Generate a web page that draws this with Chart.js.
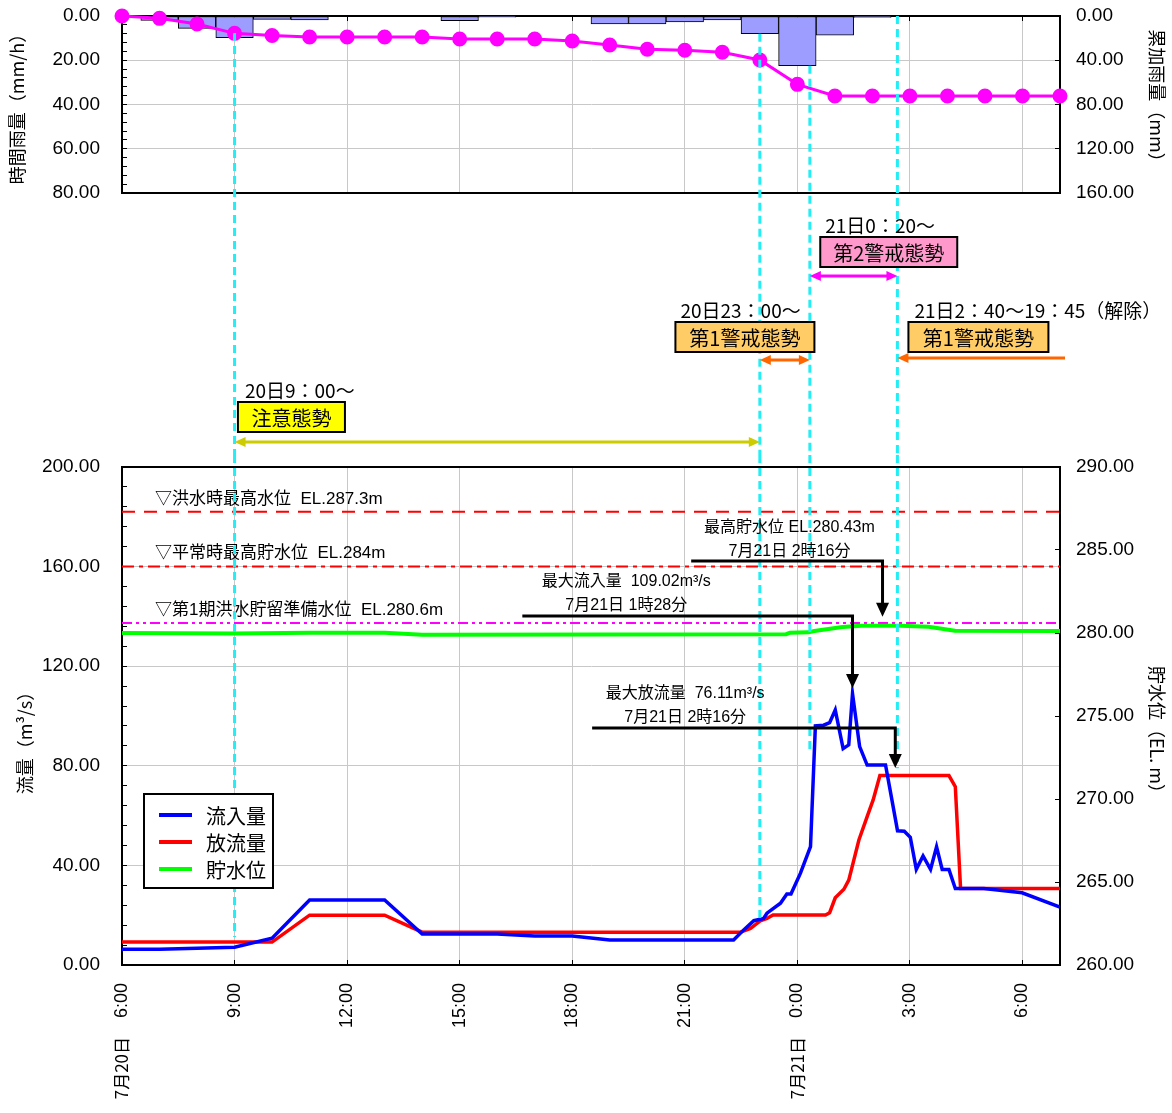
<!DOCTYPE html>
<html lang="ja">
<head>
<meta charset="utf-8">
<title>降雨・流量・貯水位</title>
<script src="https://cdn.jsdelivr.net/npm/chart.js@4/dist/chart.umd.min.js"></script>
<style>
  html, body { margin: 0; padding: 0; background: #fff; }
  #wrap { position: relative; width: 1172px; height: 1113px; }
  #rainChart { position: absolute; left: 0; top: 0; }
  #flowChart { position: absolute; left: 0; top: 455px; }
</style>
</head>
<body>
<div id="wrap">
  <canvas id="rainChart" width="1172" height="455"></canvas>
  <canvas id="flowChart" width="1172" height="658"></canvas>
</div>
<script>
// time = hours from 7/20 0:00 (24 and above = 7/21)
const rainHours = [6, 7, 8, 9, 10, 11, 12, 13, 14, 15, 16, 17, 18, 19, 20, 21, 22, 23, 24, 25, 26, 27, 28, 29, 30, 31];
const hourlyRain = [0, 2.0, 5.6, 9.8, 1.5, 1.8, 0, 0, 0, 2.1, 0.5, 0, 0, 3.6, 3.6, 2.7, 1.8, 8.0, 22.5, 8.7, 0.6, 0, 0, 0, 0, 0];
const cumulativeRain = [0, 2.1, 7.2, 15.7, 17.6, 19.0, 19.0, 19.0, 19.0, 20.8, 20.8, 20.8, 22.6, 26.2, 30.1, 31.0, 32.8, 39.8, 61.8, 72.3, 72.3, 72.3, 72.3, 72.3, 72.3, 72.3];

const inflowHours = [6, 7, 9, 10, 11, 13, 14, 16, 17, 18, 19, 22.3, 22.57, 22.84, 23.1, 23.19, 23.55, 23.72, 23.83, 24.08, 24.35, 24.48, 24.7, 24.86, 25.01, 25.22, 25.37, 25.47, 25.66, 25.86, 26.35, 26.52, 26.67, 26.85, 27.01, 27.17, 27.35, 27.55, 27.71, 27.86, 28.04, 28.21, 28.97, 29.99, 31];
const inflowValues = [6.3, 6.3, 7.1, 10.8, 26.1, 26.1, 12.4, 12.4, 11.6, 11.6, 10.0, 10.0, 14.1, 17.8, 18.7, 20.8, 24.8, 28.5, 28.5, 36.8, 47.5, 96.0, 96.3, 97.3, 102.4, 86.9, 88.4, 109.0, 87.7, 80.3, 80.3, 66.3, 53.9, 53.7, 51.3, 38.4, 43.8, 38.4, 47.5, 38.4, 38.4, 30.7, 30.7, 29.0, 23.2];

const outflowHours = [6, 10, 11, 13, 14, 22.48, 22.75, 23.01, 23.19, 23.35, 24.75, 24.86, 25.01, 25.24, 25.37, 25.64, 25.86, 26.02, 26.2, 28.04, 28.21, 28.35, 31];
const outflowValues = [9.2, 9.2, 20.0, 20.0, 13.2, 13.2, 14.7, 17.7, 18.7, 20.1, 20.1, 21.0, 27.0, 30.4, 34.1, 50.2, 59.6, 66.3, 76.1, 76.1, 71.6, 30.7, 30.7];

const levelHours = [6, 9, 11, 13, 14, 23.7, 23.8, 24.3, 24.45, 25.2, 25.7, 26.75, 27.5, 28.2, 31];
const levelValues = [280.0, 279.97, 280.02, 280.02, 279.9, 279.93, 280.02, 280.04, 280.12, 280.36, 280.43, 280.43, 280.38, 280.14, 280.12];

const xTickHours = [6, 9, 12, 15, 18, 21, 24, 27, 30];
const xTickLabels = ["6:00", "9:00", "12:00", "15:00", "18:00", "21:00", "0:00", "3:00", "6:00"];
const dateLabels = ["7月20日", "", "", "", "", "", "7月21日", "", ""];

const seriesNames = ["流入量", "放流量", "貯水位"];
const refLevels = [287.3, 284, 280.6];
const refLabels = ["▽洪水時最高水位  EL.287.3m", "▽平常時最高貯水位  EL.284m", "▽第1期洪水貯留準備水位  EL.280.6m"];

const TICK_FONT = '"Liberation Sans", "Noto Sans CJK JP", sans-serif';
const JP_FONT = '"Noto Sans CJK JP", "Liberation Sans", sans-serif';
const CYAN = '#22EEF5';
const GRID = '#C8C8C8';

// alert-stage marks (dashed cyan lines across both charts)
const alertLines = [
  { hour: 9, rainTop: 7.7, flowBottom: 11.2 },
  { hour: 23, rainTop: 8.0, flowBottom: 18.7 },
  { hour: 24 + 20 / 60, rainTop: 22.5, flowBottom: 86 },
  { hour: 26 + 40 / 60, rainTop: 0, flowBottom: 79 }
];

const stages = [
  { name: "注意態勢", since: "20日9：00～", fill: "#FFFF00", arrow: "#CCCC00", from: 9, to: 23, headEnd: true,
    boxHour: 9.09, boxW: 107, boxTop: 402, textShift: 7, arrowY: 442 },
  { name: "第1警戒態勢", since: "20日23：00～", fill: "#FFCC66", arrow: "#FF6600", from: 23, to: 24 + 20 / 60, headEnd: true,
    boxHour: 20.75, boxW: 139, boxTop: 322, textShift: 5, arrowY: 360 },
  { name: "第2警戒態勢", since: "21日0：20～", fill: "#FF99CC", arrow: "#FF00FF", from: 24 + 20 / 60, to: 26 + 40 / 60, headEnd: true,
    boxHour: 24.61, boxW: 137, boxTop: 237, textShift: 5, arrowY: 276 },
  { name: "第1警戒態勢", since: "21日2：40～19：45（解除）", fill: "#FFCC66", arrow: "#FF6600", from: 26 + 40 / 60, to: null, headEnd: false,
    boxHour: 26.96, boxW: 140, boxTop: 322, textShift: 6, arrowY: 358 }
];

const peakNotes = [
  { lines: ["最高貯水位 EL.280.43m", "7月21日 2時16分"], textHour: 23.79, fromHour: 21.17, toHour: 26.27, leader: 162.2, tip: 139.9 },
  { lines: ["最大流入量  109.02m³/s", "7月21日 1時28分"], textHour: 19.44, fromHour: 16.67, toHour: 25.47, leader: 140.2, tip: 111.2 },
  { lines: ["最大放流量  76.11m³/s", "7月21日 2時16分"], textHour: 21.01, fromHour: 18.53, toHour: 26.61, leader: 95.2, tip: 79.1 }
];

const pts = (xs, ys) => xs.map((x, i) => ({ x: x, y: ys[i] }));

function arrowHead(ctx, x, y, dx, dy, len, half) {
  ctx.beginPath();
  ctx.moveTo(x, y);
  ctx.lineTo(x - dx * len - dy * half, y - dy * len + dx * half);
  ctx.lineTo(x - dx * len + dy * half, y - dy * len - dx * half);
  ctx.closePath();
  ctx.fill();
}

const isMajor = (v, step) => Math.abs(Math.round(v) % step) === 0;

// fixed axis widths so both charts share the same x pixels
const fixWidth = w => s => { s.width = w; s.paddingTop = 0; s.paddingBottom = 0; };

// top chart: cyan lines and the alert-stage boxes in the gap
const rainOverlay = {
  id: 'rainOverlay',
  afterDatasetsDraw(chart) {
    const { ctx, chartArea: area, scales: { x, y } } = chart;
    ctx.save();
    ctx.strokeStyle = CYAN;
    ctx.lineWidth = 3;
    ctx.setLineDash([8, 5]);
    alertLines.forEach(l => {
      const px = x.getPixelForValue(l.hour);
      ctx.beginPath();
      ctx.moveTo(px, y.getPixelForValue(l.rainTop));
      ctx.lineTo(px, chart.height);
      ctx.stroke();
    });
    ctx.setLineDash([]);

    stages.forEach(s => {
      const bx = x.getPixelForValue(s.boxHour);
      ctx.fillStyle = '#000';
      ctx.font = '19px ' + JP_FONT;
      ctx.textAlign = 'left';
      ctx.textBaseline = 'middle';
      ctx.fillText(s.since, bx + s.textShift, s.boxTop - 11);

      ctx.fillStyle = s.fill;
      ctx.fillRect(bx, s.boxTop, s.boxW, 30);
      ctx.strokeStyle = '#000';
      ctx.lineWidth = 2;
      ctx.strokeRect(bx, s.boxTop, s.boxW, 30);
      ctx.fillStyle = '#000';
      ctx.font = '20px ' + JP_FONT;
      ctx.textAlign = 'center';
      ctx.fillText(s.name, bx + s.boxW / 2, s.boxTop + 16);

      const x1 = x.getPixelForValue(s.from);
      const x2 = s.to === null ? area.right + 5 : x.getPixelForValue(s.to);
      ctx.strokeStyle = s.arrow;
      ctx.fillStyle = s.arrow;
      ctx.lineWidth = 3;
      ctx.beginPath();
      ctx.moveTo(x1 + 6, s.arrowY);
      ctx.lineTo(s.headEnd ? x2 - 6 : x2, s.arrowY);
      ctx.stroke();
      arrowHead(ctx, x1, s.arrowY, -1, 0, 11, 5);
      if (s.headEnd) arrowHead(ctx, x2, s.arrowY, 1, 0, 11, 5);
    });
    ctx.restore();
  }
};

// bottom chart: level labels, cyan lines, peak notes, legend, dates
const flowOverlay = {
  id: 'flowOverlay',
  afterDatasetsDraw(chart) {
    const { ctx, chartArea: area, scales: { x, y, yR } } = chart;
    ctx.save();
    ctx.fillStyle = '#000';
    ctx.font = '17px ' + TICK_FONT;
    ctx.textAlign = 'left';
    ctx.textBaseline = 'middle';
    refLevels.forEach((lv, i) => {
      ctx.fillText(refLabels[i], area.left + 33, yR.getPixelForValue(lv) - 13);
    });

    ctx.strokeStyle = CYAN;
    ctx.lineWidth = 3;
    ctx.setLineDash([8, 5]);
    alertLines.forEach(l => {
      const px = x.getPixelForValue(l.hour);
      ctx.beginPath();
      ctx.moveTo(px, 0);
      ctx.lineTo(px, y.getPixelForValue(l.flowBottom));
      ctx.stroke();
    });
    ctx.setLineDash([]);

    peakNotes.forEach(n => {
      const tx = x.getPixelForValue(n.textHour);
      const ly = y.getPixelForValue(n.leader);
      ctx.fillStyle = '#000';
      ctx.font = '16px ' + TICK_FONT;
      ctx.textAlign = 'center';
      ctx.fillText(n.lines[0], tx, ly - 34);
      ctx.fillText(n.lines[1], tx, ly - 10);
      const x1 = x.getPixelForValue(n.fromHour);
      const x2 = x.getPixelForValue(n.toHour);
      const tip = y.getPixelForValue(n.tip);
      ctx.strokeStyle = '#000';
      ctx.lineWidth = 3;
      ctx.beginPath();
      ctx.moveTo(x1, ly);
      ctx.lineTo(x2, ly);
      ctx.lineTo(x2, tip - 12);
      ctx.stroke();
      arrowHead(ctx, x2, tip, 0, 1, 14, 6.5);
    });

    // legend
    const lx = area.left + 22, ly = area.top + 327, lw = 129, lh = 94;
    ctx.fillStyle = '#fff';
    ctx.fillRect(lx, ly, lw, lh);
    ctx.strokeStyle = '#000';
    ctx.lineWidth = 2;
    ctx.strokeRect(lx, ly, lw, lh);
    chart.data.datasets.slice(0, 3).forEach((ds, i) => {
      const yy = ly + 21 + i * 27;
      ctx.strokeStyle = ds.borderColor;
      ctx.lineWidth = 4;
      ctx.beginPath();
      ctx.moveTo(lx + 15, yy);
      ctx.lineTo(lx + 48, yy);
      ctx.stroke();
      ctx.fillStyle = '#000';
      ctx.font = '20px ' + JP_FONT;
      ctx.textAlign = 'left';
      ctx.fillText(ds.label, lx + 62, yy + 1);
    });

    // dates under the time labels
    ctx.font = '17px ' + JP_FONT;
    ctx.fillStyle = '#000';
    xTickHours.forEach((h, i) => {
      if (!dateLabels[i]) return;
      ctx.save();
      ctx.translate(x.getPixelForValue(h), area.bottom + 72);
      ctx.rotate(-Math.PI / 2);
      ctx.textAlign = 'right';
      ctx.textBaseline = 'middle';
      ctx.fillText(dateLabels[i], 0, 0);
      ctx.restore();
    });
    ctx.restore();
  }
};

const tickFont = { family: TICK_FONT, size: 19 };
const titleFont = { family: JP_FONT, size: 18 };
const frame = { display: true, color: '#000', width: 2 };

new Chart(document.getElementById('rainChart'), {
  type: 'line',
  data: {
    datasets: [
      {
        label: '累加雨量',
        data: pts(rainHours, cumulativeRain),
        yAxisID: 'yR',
        borderColor: '#FF00FF',
        backgroundColor: '#FF00FF',
        pointBackgroundColor: '#FF00FF',
        pointBorderColor: '#FF00FF',
        pointRadius: 6,
        borderWidth: 3,
        clip: false
      },
      {
        type: 'bar',
        label: '時間雨量',
        data: pts(rainHours, hourlyRain.map(v => v || null)),
        yAxisID: 'y',
        backgroundColor: '#9D9DFF',
        borderColor: '#000',
        borderWidth: 1,
        borderSkipped: false,
        barPercentage: 1,
        categoryPercentage: 1
      }
    ]
  },
  options: {
    responsive: false,
    animation: false,
    layout: { padding: { top: 16, bottom: 262, left: 0, right: 0 } },
    plugins: { legend: { display: false }, tooltip: { enabled: false } },
    scales: {
      x: {
        type: 'linear', min: 6, max: 31, offset: false,
        afterFit: s => { s.height = 0; },
        ticks: { display: false, stepSize: 3, includeBounds: false },
        grid: { color: GRID, drawTicks: false, offset: false },
        border: frame
      },
      xTop: {
        type: 'linear', position: 'top', min: 6, max: 31, offset: false,
        afterFit: s => { s.height = 0; },
        ticks: { display: false, stepSize: 3, includeBounds: false },
        grid: { drawOnChartArea: false, tickColor: '#000', tickLength: -5 },
        border: frame
      },
      y: {
        position: 'left', reverse: true, min: 0, max: 80,
        afterFit: fixWidth(122),
        ticks: { stepSize: 4, autoSkip: false, padding: 27, color: '#000', font: tickFont,
          callback: v => isMajor(v, 20) ? v.toFixed(2) : '' },
        grid: { color: c => isMajor(c.tick.value, 20) ? GRID : 'rgba(0,0,0,0)', tickColor: '#000', tickLength: -5 },
        border: frame,
        title: { display: true, text: '時間雨量（mm/h）', color: '#000', font: titleFont, padding: { top: 6, bottom: 0 } }
      },
      yR: {
        position: 'right', reverse: true, min: 0, max: 160,
        afterFit: fixWidth(112),
        ticks: { stepSize: 40, padding: 21, color: '#000', font: tickFont, callback: v => v.toFixed(2) },
        grid: { drawOnChartArea: false, tickColor: '#000', tickLength: -5 },
        border: frame,
        title: { display: true, text: '累加雨量（mm）　', color: '#000', font: titleFont, padding: { top: 4, bottom: 0 } }
      }
    }
  },
  plugins: [rainOverlay]
});

new Chart(document.getElementById('flowChart'), {
  type: 'line',
  data: {
    datasets: [
      { label: seriesNames[0], data: pts(inflowHours, inflowValues), yAxisID: 'y',
        borderColor: '#0000FF', borderWidth: 3.5, pointRadius: 0, tension: 0 },
      { label: seriesNames[1], data: pts(outflowHours, outflowValues), yAxisID: 'y',
        borderColor: '#FF0000', borderWidth: 3.5, pointRadius: 0, tension: 0 },
      { label: seriesNames[2], data: pts(levelHours, levelValues), yAxisID: 'yR',
        borderColor: '#00FF00', borderWidth: 4, pointRadius: 0, tension: 0 },
      { label: refLabels[0], data: pts([6, 31], [refLevels[0], refLevels[0]]), yAxisID: 'yR',
        borderColor: '#FF0000', borderWidth: 2, pointRadius: 0, borderDash: [13, 9] },
      { label: refLabels[1], data: pts([6, 31], [refLevels[1], refLevels[1]]), yAxisID: 'yR',
        borderColor: '#FF0000', borderWidth: 2, pointRadius: 0, borderDash: [12, 5, 4, 5] },
      { label: refLabels[2], data: pts([6, 31], [refLevels[2], refLevels[2]]), yAxisID: 'yR',
        borderColor: '#FF00FF', borderWidth: 2, pointRadius: 0, borderDash: [10, 4, 3, 4, 3, 4] }
    ]
  },
  options: {
    responsive: false,
    animation: false,
    layout: { padding: { top: 12, bottom: 0, left: 0, right: 0 } },
    plugins: { legend: { display: false }, tooltip: { enabled: false } },
    scales: {
      x: {
        type: 'linear', min: 6, max: 31, offset: false,
        afterFit: s => { s.height = 148; },
        ticks: { stepSize: 3, autoSkip: false, includeBounds: false, minRotation: 90, maxRotation: 90,
          padding: 23, color: '#000', font: { family: TICK_FONT, size: 18 },
          callback: v => { const i = xTickHours.indexOf(v); return i < 0 ? '' : xTickLabels[i]; } },
        grid: { color: GRID, tickColor: '#000', tickLength: -5 },
        border: frame
      },
      xTop: {
        type: 'linear', position: 'top', min: 6, max: 31, offset: false,
        afterFit: s => { s.height = 0; },
        ticks: { display: false },
        grid: { drawOnChartArea: false, drawTicks: false },
        border: frame
      },
      y: {
        position: 'left', min: 0, max: 200,
        afterFit: fixWidth(122),
        ticks: { stepSize: 8, autoSkip: false, padding: 27, color: '#000', font: tickFont,
          callback: v => isMajor(v, 40) ? v.toFixed(2) : '' },
        grid: { color: c => isMajor(c.tick.value, 40) ? GRID : 'rgba(0,0,0,0)', tickColor: '#000', tickLength: -5 },
        border: frame,
        title: { display: true, text: '流量（m³/s）　　　', color: '#000', font: titleFont, padding: { top: 14, bottom: 0 } }
      },
      yR: {
        position: 'right', min: 260, max: 290,
        afterFit: fixWidth(112),
        ticks: { stepSize: 5, padding: 21, color: '#000', font: tickFont, callback: v => v.toFixed(2) },
        grid: { drawOnChartArea: false, tickColor: '#000', tickLength: -5 },
        border: frame,
        title: { display: true, text: '　　貯水位（EL. m）', color: '#000', font: titleFont, padding: { top: 4, bottom: 0 } }
      }
    }
  },
  plugins: [flowOverlay]
});
</script>
</body>
</html>
